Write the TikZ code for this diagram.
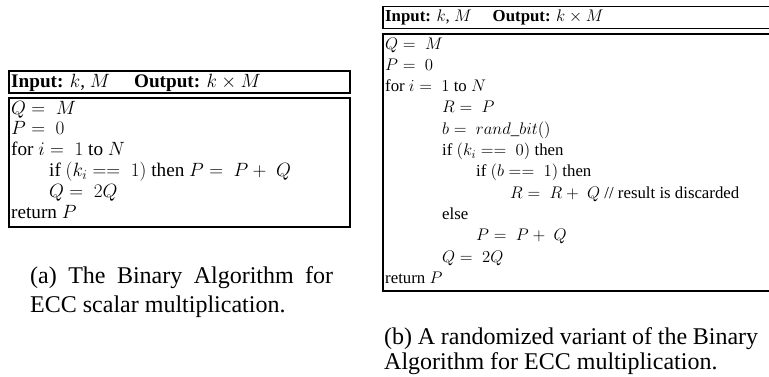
\documentclass[tikz,border=0pt]{standalone}
\usepackage{fix-cm}
\usepackage[no-math]{fontspec}
\setmainfont{Liberation Serif}
\begin{document}
\begin{tikzpicture}[x=1pt,y=-1pt,
  frame/.style={draw=black,line width=1.8pt},
  codeA/.style={anchor=base west,inner sep=0pt,font=\fontsize{19.2}{21}\selectfont},
  codeB/.style={anchor=base west,inner sep=0pt,font=\fontsize{16.8}{21}\selectfont},
  captext/.style={anchor=base west,inner sep=0pt,font=\fontsize{24}{28}\selectfont}]
\useasboundingbox (0,0) rectangle (769,376);
\clip (0,0) rectangle (769,376);
% ---------- (a) ----------
\node[frame,minimum width=341pt,minimum height=22pt,anchor=north west,inner sep=0pt] (ah) at (8,70) {};
\node[frame,minimum width=341pt,minimum height=129pt,anchor=north west,inner sep=0pt] (ab) at (8,97) {};
\node[codeA] (aht) at (11,87) {\textbf{Input:} $k$, $M$\quad\ \textbf{Output:} $k\times M$};
\node[codeA] (a1) at (11,114) {$Q =\; M$};
\node[codeA] (a2) at (11,134.8) {$P =\; 0$};
\node[codeA] (a3) at (11,155.6) {for $i =\; 1$ to $N$};
\node[codeA] (a4) at (49,176.4) {if $(k_i ==\; 1)$ then $P =\; P +\; Q$};
\node[codeA] (a5) at (49,197.2) {$Q =\; 2Q$};
\node[codeA] (a6) at (11,218) {return $P$};
\node[captext] (ac1) at (30,283) {\makebox[303pt][s]{(a) The Binary Algorithm for}};
\node[captext] (ac2) at (30,312) {ECC scalar multiplication.};
% ---------- (b) ----------
\node[frame,minimum width=400pt,minimum height=22pt,anchor=north west,inner sep=0pt] (bh) at (382,5.5) {};
\node[frame,minimum width=400pt,minimum height=257pt,anchor=north west,inner sep=0pt] (bb) at (382,33) {};
\node[codeB] (bht) at (385,21.5) {\textbf{Input:} $k$, $M$\quad\ \textbf{Output:} $k\times M$};
\node[codeB] (b1) at (385,49) {$Q =\; M$};
\node[codeB] (b2) at (385,70.3) {$P =\; 0$};
\node[codeB] (b3) at (385,91.6) {for $i =\; 1$ to $N$};
\node[codeB] (b4) at (442,112.9) {$R =\; P$};
\node[codeB] (b5) at (442,134.2) {$b =\; rand\_bit()$};
\node[codeB] (b6) at (442,155.5) {if $(k_i ==\; 0)$ then};
\node[codeB] (b7) at (476,176.8) {if $(b ==\; 1)$ then};
\node[codeB] (b8) at (510,198.1) {$R =\; R +\; Q$ // result is discarded};
\node[codeB] (b9) at (442,219.4) {else};
\node[codeB] (b10) at (476,240.7) {$P =\; P +\; Q$};
\node[codeB] (b11) at (442,262) {$Q =\; 2Q$};
\node[codeB] (b12) at (385,283.3) {return $P$};
\node[captext] (bc1) at (384,344) {\makebox[374pt][s]{(b) A randomized variant of the Binary}};
\node[captext] (bc2) at (384,369) {Algorithm for ECC multiplication.};
\end{tikzpicture}
\end{document}
